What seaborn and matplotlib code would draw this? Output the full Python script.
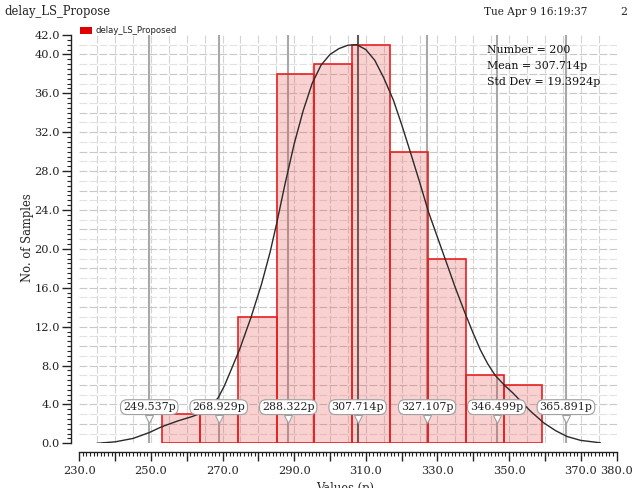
import matplotlib
matplotlib.use("Agg")
import matplotlib.pyplot as plt
from matplotlib.ticker import MultipleLocator, FixedLocator
import numpy as np
import pandas as pd
import seaborn as sns

# ---- data ----
bin_edges = [253.0, 263.7, 274.4, 285.1, 295.6, 306.2, 316.8, 327.4, 338.0, 348.6, 359.2]
bin_counts = [3, 4, 13, 38, 39, 41, 30, 19, 7, 6]

curve_x = [234.9, 240.0, 245.0, 249.5, 253.0, 257.5, 261.5, 264.0, 266.5, 268.8, 270.5,
           272.1, 274.7, 277.9, 280.9, 283.3, 285.1, 287.4, 290.0, 292.5, 295.0, 297.5,
           300.0, 302.5, 305.0, 307.5, 310.0, 312.5, 315.0, 317.7, 320.0, 322.4, 325.0,
           327.5, 330.0, 332.6, 335.0, 337.7, 340.0, 342.0, 344.0, 346.1, 348.9, 351.0,
           353.1, 356.0, 359.7, 363.0, 366.2, 370.0, 375.5]
curve_y = [0.0, 0.15, 0.5, 1.1, 1.7, 2.3, 2.75, 3.1, 3.7, 4.7, 5.9,
           7.3, 9.6, 12.9, 16.4, 19.7, 22.6, 26.6, 30.8, 34.2, 37.0, 38.9,
           40.0, 40.6, 40.95, 41.0, 40.5, 39.4, 37.6, 35.3, 32.8, 30.0, 26.9,
           23.8, 21.2, 18.5, 16.0, 13.4, 11.3, 9.6, 8.2, 7.0, 5.9, 5.2,
           4.4, 3.3, 2.1, 1.3, 0.7, 0.3, 0.05]

marker_vals = [249.537, 268.929, 288.322, 307.714, 327.107, 346.499, 365.891]
marker_labels = ["249.537p", "268.929p", "288.322p", "307.714p", "327.107p", "346.499p", "365.891p"]

x_tick_vals = [230, 250, 270, 290, 310, 330, 350, 370, 380]
x_tick_labels = ["230.0", "250.0", "270.0", "290.0", "310.0", "330.0", "350.0", "370.0", "380.0"]
y_tick_vals = [0, 4, 8, 12, 16, 20, 24, 28, 32, 36, 40, 42]

stats_lines = ["Number = 200", "Mean = 307.714p", "Std Dev = 19.3924p"]
title_text = "delay_LS_Propose"
date_text = "Tue Apr 9 16:19:37"
legend_text = "delay_LS_Proposed"

# ---- style ----
sns.set_style("white")
plt.rcParams["font.family"] = ["DejaVu Serif"]
SERIF = "DejaVu Serif"

W, H = 632, 488
fig = plt.figure(figsize=(W / 100, H / 100), dpi=100)
x0, x1, y0, y1 = 79.3, 616.5, 443.3, 35.0
ax = fig.add_axes([x0 / W, 1 - y0 / H, (x1 - x0) / W, (y0 - y1) / H])
ax.set_xlim(230, 380)
ax.set_ylim(0, 42)
ax.patch.set_alpha(0)

# grid (dashed, light gray)
for gx in np.arange(235, 380, 5):
    ax.axvline(gx, color="#d4d4d4", lw=0.8, ls=(0, (7, 2)), zorder=0)
for gy in np.arange(1, 42, 1):
    ax.axhline(gy, color="#c8c8c8" if gy % 2 == 0 else "#e2e2e2", lw=0.8,
               ls=(0, (7, 2)), zorder=0)

# marker lines
for v in marker_vals:
    ax.axvline(v, color="#5a5a5a" if v == marker_vals[3] else "#a8a8a8",
               lw=1.5, zorder=1)

# histogram
centers = [(a + b) / 2 for a, b in zip(bin_edges[:-1], bin_edges[1:])]
df = pd.DataFrame({"val": centers, "cnt": bin_counts})
sns.histplot(data=df, x="val", weights="cnt", bins=bin_edges, ax=ax,
             stat="count", facecolor=(0.9, 0.25, 0.25, 0.24), edgecolor="#e82020",
             linewidth=1.2, zorder=2)

# density curve
sns.lineplot(x=curve_x, y=curve_y, ax=ax, color="#2a2a2a", lw=1.0, zorder=4,
             sort=False, estimator=None)

# marker labels
for v, lab in zip(marker_vals, marker_labels):
    ax.plot([v], [2.45], marker="v", ms=5.5, mfc="white", mec="#a0a0a0",
            mew=0.8, zorder=6, clip_on=False)
    ax.text(v, 3.72, lab, ha="center", va="center", fontsize=7.9, family=SERIF,
            color="#222222", zorder=7,
            bbox=dict(boxstyle="round,pad=0.22,rounding_size=0.6", fc="white",
                      ec="#a0a0a0", lw=0.8))

ax.set_xlabel("")
ax.set_ylabel("")

# axes / spines
for s in ["top", "right"]:
    ax.spines[s].set_visible(False)
ax.spines["left"].set_position(("outward", 6))
ax.spines["bottom"].set_position(("outward", 6))
for s in ["left", "bottom"]:
    ax.spines[s].set_color("#222222")
    ax.spines[s].set_linewidth(1.0)

ax.xaxis.set_major_locator(FixedLocator(np.arange(230, 381, 10)))
ax.set_xticklabels([x_tick_labels[x_tick_vals.index(t)] if t in x_tick_vals else ""
                    for t in np.arange(230, 381, 10)])
ax.xaxis.set_minor_locator(MultipleLocator(1))
ax.yaxis.set_major_locator(FixedLocator(y_tick_vals))
ax.set_yticklabels([f"{t:.1f}" for t in y_tick_vals])
ax.yaxis.set_minor_locator(MultipleLocator(0.5))
ax.tick_params(which="both", bottom=True, left=True, top=False, right=False)
ax.tick_params(axis="x", which="major", length=6.5, width=1, direction="out",
               pad=4, labelsize=8.2, colors="#222222")
ax.tick_params(axis="x", which="minor", length=3.2, width=0.8, direction="out",
               colors="#222222")
ax.tick_params(axis="y", which="major", length=6.5, width=1, direction="out",
               pad=1.5, labelsize=8.2, colors="#222222")
ax.tick_params(axis="y", which="minor", length=3.2, width=0.8, direction="out",
               colors="#222222")
for lab in ax.get_xticklabels() + ax.get_yticklabels():
    lab.set_family(SERIF)
    lab.set_clip_on(False)

# texts
fig.text(4 / W, 1 - 12 / H, title_text, ha="left", va="center", fontsize=8.3,
         family=SERIF, color="#222222")
fig.text(484 / W, 1 - 12 / H, date_text, ha="left", va="center", fontsize=7.6,
         family=SERIF, color="#222222")
fig.text(620 / W, 1 - 12 / H, "2", ha="left", va="center", fontsize=7.8,
         family=SERIF, color="#222222")
for i, line in enumerate(stats_lines):
    fig.text(487 / W, 1 - (50 + 16 * i) / H, line, ha="left", va="center",
             fontsize=7.9, family=SERIF, color="#111111", zorder=10)
fig.text(27 / W, 1 - 238 / H, "No. of Samples", rotation=90, ha="center",
         va="center", fontsize=8.3, family=SERIF, color="#222222")
fig.text(345 / W, 1 - 482 / H, "Values (p)", ha="center", va="top",
         fontsize=8.3, family=SERIF, color="#222222")

# legend-like key above the plot
fig.patches.append(plt.Rectangle((80 / W, 1 - 34 / H), 12 / W, 7 / H,
                                 transform=fig.transFigure, fc="#e00000",
                                 ec="none"))
fig.text(95 / W, 1 - 30.5 / H, legend_text, ha="left", va="center",
         fontsize=6.1, family="DejaVu Sans", color="#222222")

fig.savefig("out.png", dpi=100)
